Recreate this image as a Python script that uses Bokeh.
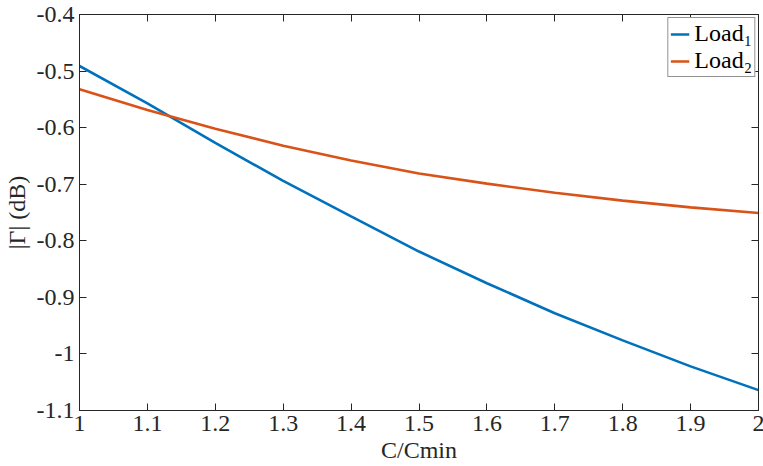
from bokeh.plotting import figure
from bokeh.models import (Range1d, LinearAxis, FixedTicker, CustomJSTickFormatter,
                          Legend, LegendItem, ColumnDataSource)
from bokeh.embed import file_html
from bokeh.resources import INLINE

# ---- data ----
c_ratio = [1.0, 1.1, 1.2, 1.3, 1.4, 1.5, 1.6, 1.7, 1.8, 1.9, 2.0]
load1 = [-0.491, -0.557, -0.627, -0.694, -0.757, -0.819, -0.875, -0.928, -0.976, -1.022, -1.064]
load2 = [-0.532, -0.569, -0.602, -0.632, -0.658, -0.681, -0.699, -0.715, -0.729, -0.741, -0.751]
x_ticks = [1.0, 1.1, 1.2, 1.3, 1.4, 1.5, 1.6, 1.7, 1.8, 1.9, 2.0]
y_ticks = [-1.1, -1.0, -0.9, -0.8, -0.7, -0.6, -0.5, -0.4]
series_names = ["Load\u2081", "Load\u2082"]
colors = ["#0072BD", "#D95319"]

FONT = "Liberation Serif"
AX = "#262626"
FS = "24px"

p = figure(frame_width=679, frame_height=396, output_backend="svg", toolbar_location=None,
           x_range=Range1d(1, 2), y_range=Range1d(-1.1, -0.4),
           x_axis_label="C/Cmin", y_axis_label="|\u0393| (dB)")
p.min_border_left = 78
p.min_border_right = 6
p.min_border_top = 14
p.min_border_bottom = 55
p.xgrid.visible = False
p.ygrid.visible = False
p.outline_line_color = AX
p.outline_line_alpha = 1.0
p.background_fill_color = "white"
p.border_fill_color = "white"

src = ColumnDataSource(dict(x=c_ratio, y1=load1, y2=load2))
r1 = p.line("x", "y1", source=src, line_color=colors[0], line_width=2.6)
r2 = p.line("x", "y2", source=src, line_color=colors[1], line_width=2.6)

fmt = CustomJSTickFormatter(code="return String(Math.round(tick*10)/10);")
blank = CustomJSTickFormatter(code="return '';")

def style(ax, ticks, show_labels=True):
    ax.ticker = FixedTicker(ticks=ticks)
    ax.formatter = fmt if show_labels else blank
    ax.major_tick_in = 7
    ax.major_tick_out = 0
    ax.minor_tick_in = 0
    ax.minor_tick_out = 0
    ax.axis_line_color = AX
    ax.major_tick_line_color = AX
    ax.axis_line_width = 1
    ax.major_label_text_font = FONT
    ax.major_label_text_font_size = FS
    ax.major_label_text_color = AX
    ax.axis_label_text_font = FONT
    ax.axis_label_text_font_size = FS
    ax.axis_label_text_font_style = "normal"
    ax.axis_label_text_color = AX
    if not show_labels:
        ax.major_label_standoff = 0

style(p.xaxis[0], x_ticks)
style(p.yaxis[0], y_ticks)
p.xaxis[0].major_label_standoff = 5
p.xaxis[0].axis_label_standoff = 3
p.yaxis[0].major_label_standoff = 5
p.yaxis[0].axis_label_standoff = 4

top = LinearAxis()
style(top, x_ticks, show_labels=False)
p.add_layout(top, "above")
right = LinearAxis()
style(right, y_ticks, show_labels=False)
p.add_layout(right, "right")

legend = Legend(items=[LegendItem(label=series_names[0], renderers=[r1]),
                       LegendItem(label=series_names[1], renderers=[r2])],
                location="top_right")
legend.label_text_font = FONT
legend.label_text_font_size = FS
legend.label_text_color = "black"
legend.glyph_width = 19
legend.glyph_height = 24
legend.label_height = 24
legend.label_standoff = 5
legend.padding = 2
legend.spacing = -2
legend.margin = 3
legend.border_line_color = AX
legend.border_line_width = 1
legend.background_fill_color = "white"
legend.background_fill_alpha = 1.0
p.add_layout(legend, "center")

open("out.html", "w").write(file_html(p, INLINE))
